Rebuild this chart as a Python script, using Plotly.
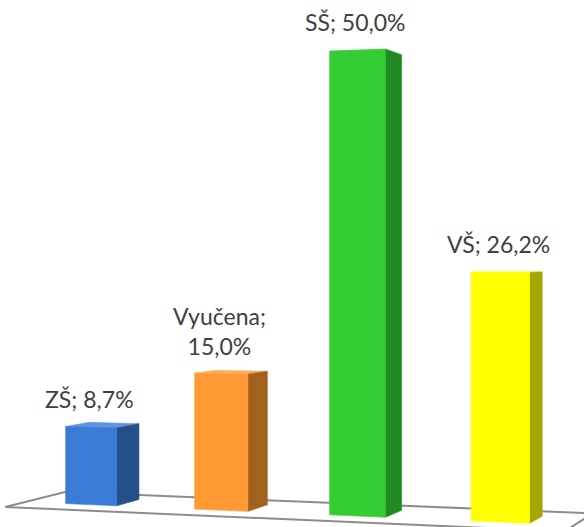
import plotly.graph_objects as go

# ---------------- data ----------------
categories = ["ZŠ", "Vyučena", "SŠ", "VŠ"]
values = [8.7, 15.0, 50.0, 26.2]
label_texts = ["ZŠ; 8,7%", "Vyučena;<br>15,0%", "SŠ; 50,0%", "VŠ; 26,2%"]

# ---------------- styles ----------------
front_colors = ["#3A7BD5", "#FF9933", "#33CC33", "#FFFF00"]
side_colors = ["#24508A", "#A3611F", "#228A22", "#A6A600"]
top_colors = ["#5E95DE", "#FFAD5C", "#5CD65C", "#FFFF66"]
floor_color = "#8C8C8C"
text_color = "#404040"

W, H = 584, 527

# ---------------- 3D view (projective camera) ----------------
# world: X along categories (bar i centred at X=i), Y = value in %, Z = depth
CAM = dict(a0=91.0, ax=125.2, az=25.94, c=-0.0224, cz=0.02625,
           b0=504.7, bx=-5.9, by=-8.9, bz=6.9)
BAR_HALF = 0.2     # half width of a bar (X units)
BAR_DEPTH = 1.0    # depth of a bar (Z units)
FLOOR_X = (-0.52, 3.5)
FLOOR_Z = (-0.8, 1.65)


def proj(X, Y, Z):
    w = 1 + CAM["c"] * X + CAM["cz"] * Z
    sx = (CAM["ax"] * X + CAM["az"] * Z + CAM["a0"]) / w
    sy = (CAM["bx"] * X + CAM["by"] * Y + CAM["bz"] * Z + CAM["b0"]) / w
    return sx, sy


def poly(points, color, line_color=None, width=0.6):
    xs, ys = zip(*[proj(*p) for p in points])
    xs = list(xs) + [xs[0]]
    ys = list(ys) + [ys[0]]
    return go.Scatter(x=xs, y=ys, mode="lines", fill="toself",
                      fillcolor=color,
                      line=dict(color=line_color or color, width=width),
                      hoverinfo="skip", showlegend=False)


fig = go.Figure()

# floor
x0, x1 = FLOOR_X
z0, z1 = FLOOR_Z
fig.add_trace(poly([(x0, 0, z0), (x1, 0, z0), (x1, 0, z1), (x0, 0, z1)],
                   "rgba(255,255,255,0)", floor_color, 2))

annotations = []
for i, (cat, v) in enumerate(zip(categories, values)):
    xl, xr = i - BAR_HALF, i + BAR_HALF
    d = BAR_DEPTH
    # top face
    fig.add_trace(poly([(xl, v, 0), (xr, v, 0), (xr, v, d), (xl, v, d)], top_colors[i]))
    # side face
    fig.add_trace(poly([(xr, 0, 0), (xr, v, 0), (xr, v, d), (xr, 0, d)], side_colors[i]))
    # front face
    fig.add_trace(poly([(xl, 0, 0), (xr, 0, 0), (xr, v, 0), (xl, v, 0)], front_colors[i]))
    lx, ly = proj(i, v, 0)
    annotations.append(dict(x=lx, y=ly, xref="x", yref="y", text=label_texts[i],
                            showarrow=False, xanchor="center", yanchor="bottom",
                            yshift=12, xshift=-2,
                            font=dict(family="Lato", size=23, color=text_color)))

fig.update_layout(
    width=W, height=H,
    margin=dict(l=0, r=0, t=0, b=0),
    paper_bgcolor="white", plot_bgcolor="white",
    xaxis=dict(range=[0, W], visible=False, fixedrange=True),
    yaxis=dict(range=[H, 0], visible=False, fixedrange=True),
    showlegend=False,
    annotations=annotations,
)

fig.write_html("out.html", config={"displayModeBar": False},
               post_script="document.body.style.margin='0';document.body.style.overflow='hidden';")
